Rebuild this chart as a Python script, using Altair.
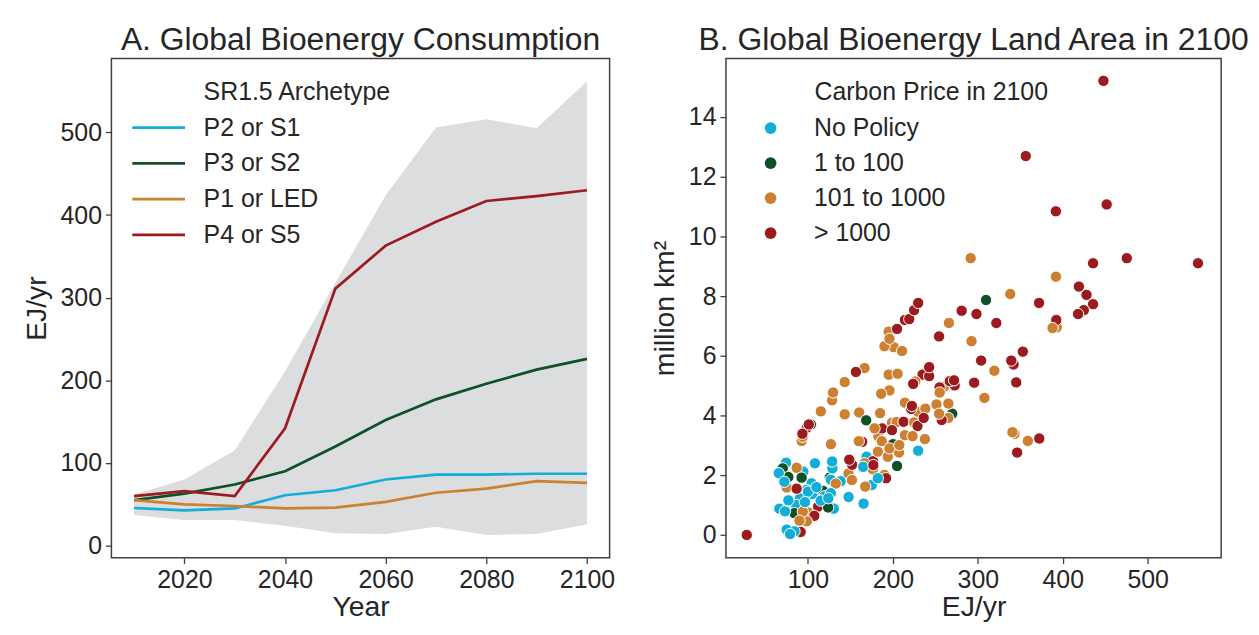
import altair as alt
import pandas as pd

# ---------------- Panel A data ----------------
years = [2010, 2020, 2030, 2040, 2050, 2060, 2070, 2080, 2090, 2100]
band_low = [37, 31, 31, 24, 15, 14, 23, 13, 14, 26]
band_high = [62, 80, 115, 211, 318, 424, 506, 516, 505, 562]
p2_s1 = [45.6, 42.8, 45, 61, 67, 80, 86, 86, 87, 87]
p3_s2 = [55, 63, 74, 90, 120, 152, 177, 196, 213, 226]
p1_led = [55, 50, 48, 45, 46, 53, 64, 69, 78, 76]
p4_s5 = [60, 66, 60, 142, 311, 363, 392, 417, 423, 430]
series_names = ["P2 or S1", "P3 or S2", "P1 or LED", "P4 or S5"]
series_colors = ["#12AED8", "#0E5127", "#CC8032", "#9B1B1F"]

# ---------------- Panel B data ----------------
cat_names = ["No Policy", "1 to 100", "101 to 1000", "> 1000"]
cat_colors = ["#12AED8", "#0E5127", "#CC8032", "#9B1B1F"]

nopol_x = [79, 75, 84.2, 66.4, 73, 77, 90.6, 96.5, 105, 98.4, 104.3, 127, 130.4, 124, 147.9,
           165.5, 65.7, 74.3, 72.2, 94.6, 108.2, 128.5, 128.8, 138.6, 127, 169.1, 165, 175.2,
           182.3, 229.8, 115, 120, 100, 110, 86]
nopol_y = [0.03, 0.18, 0.12, 0.88, 0.79, 1.16, 1.23, 1.1, 1.37, 1.51, 1.73, 1.4, 0.88, 1.23, 1.27,
           1.05, 2.07, 2.42, 1.78, 2.12, 2.4, 2.46, 2.23, 1.8, 1.85, 2.62, 2.28, 1.67,
           1.9, 2.82, 1.15, 1.3, 1.45, 1.6, 1.0]

low_x = [70.4, 77, 92.6, 84, 123.8, 125.7, 117.5, 111.6, 103.5, 168.6, 200.2, 204.9, 269.9, 309.7]
low_y = [2.23, 1.94, 1.92, 0.73, 0.92, 1.92, 1.48, 1.45, 3.7, 3.84, 3.04, 2.31, 4.06, 7.87]

mid_x = [90.1, 98.6, 100.4, 94, 75, 86.7, 93.8, 92.6, 127, 115.2, 128.5, 129.6, 143.3, 143.3,
         160.4, 166.7, 132.8, 151.8, 147.8, 167.5, 166.7, 176.4, 182.3, 194, 190, 196, 207.6,
         187, 183, 214.2, 223.2, 237.7, 178.4, 199, 204.4, 225, 185, 214.2, 229.6, 238.2,
         251.3, 265.3, 254.4, 265.3, 186.2, 196, 195.1, 205.6, 226.3, 260.2, 255.1, 190.1,
         201, 210.7, 195.1, 196, 266, 292.6, 307.8, 319.5, 291.6, 338.2, 340.8, 343.2, 358.9,
         388, 392.8, 392, 159.9, 207.2]
mid_y = [0.48, 0.46, 0.75, 0.78, 1.59, 2.25, 3.29, 3.15, 3.04, 4.14, 4.51, 4.77, 5.12, 4.04,
         4.1, 5.59, 1.72, 1.84, 2.06, 1.62, 2.4, 2.2, 2.79, 2.62, 2.01, 2.9, 3.01,
         3.14, 3.3, 3.34, 3.31, 3.21, 3.57, 3.76, 3.78, 3.77, 4.08, 4.43, 4.12, 4.23,
         4.37, 4.4, 4.06, 3.92, 4.73, 4.84, 5.37, 5.4, 5.14, 4.96, 4.77, 6.32,
         6.29, 6.16, 6.81, 6.57, 7.1, 6.49, 4.59, 5.5, 9.27, 8.07, 3.44, 3.39, 3.15,
         6.93, 6.95, 8.65, 3.14, 2.76]

high_x = [28, 91.5, 107.5, 112, 86.7, 93.5, 99, 101, 148.7, 152, 156.5, 163.9, 177, 176.6, 192,
          187.3, 199, 212.6, 229, 222.4, 221.6, 236.3, 257.5, 223.9, 235, 242.7, 242.7, 255,
          272, 272.8, 267, 295.7, 303.9, 204.9, 214.2, 219.3, 225, 229.8, 254.4, 281, 298.4,
          321.8, 339.4, 342.1, 345.2, 346.3, 372.4, 353, 372.1, 392.4, 418, 421, 424.8, 419,
          428, 435.7, 435.7, 451.7, 475.4, 559.2, 391.9, 356.5, 447.9]
high_y = [0.0, 0.1, 0.64, 0.95, 1.55, 3.39, 3.6, 3.7, 2.52, 2.35, 5.46, 3.12, 2.34, 2.47, 1.9,
          3.57, 3.51, 3.79, 3.65, 4.32, 4.22, 3.92, 3.85, 5.06, 5.37, 5.32, 5.62, 4.94,
          5.18, 5.01, 5.15, 5.1, 5.84, 6.9, 7.2, 7.23, 7.53, 7.77, 6.65, 7.51, 7.4,
          7.1, 5.84, 5.71, 5.11, 2.76, 3.23, 6.14, 7.77, 7.2, 7.4, 7.45, 7.53, 8.32,
          8.04, 7.73, 9.1, 11.07, 9.27, 9.1, 10.84, 12.69, 15.21]

# ---------------- Tables ----------------
band_df = pd.DataFrame({"year": years, "low": band_low, "high": band_high})
rows = []
for name, vals in zip(series_names, [p2_s1, p3_s2, p1_led, p4_s5]):
    for yr, v in zip(years, vals):
        rows.append({"year": yr, "value": v, "series": name})
lines_df = pd.DataFrame(rows)

srows = []
for name, xs, ys in zip(cat_names, [nopol_x, low_x, mid_x, high_x], [nopol_y, low_y, mid_y, high_y]):
    for a, b in zip(xs, ys):
        srows.append({"ej": a, "area": b, "price": name})
scatter_df = pd.DataFrame(srows).sample(frac=1.0, random_state=3).reset_index(drop=True)

TEXT = "#262626"
FONT = "Liberation Sans"

x_a = alt.X("year:Q", scale=alt.Scale(domain=[2005.5, 2104.5], nice=False, zero=False),
            axis=alt.Axis(values=[2020, 2040, 2060, 2080, 2100], format="d", title="Year"))
y_a = alt.Y("low:Q", scale=alt.Scale(domain=[-14.5, 589.5], nice=False),
            axis=alt.Axis(values=[0, 100, 200, 300, 400, 500], title="EJ/yr"))

band = alt.Chart(band_df).mark_area(color="#DCDDDF", opacity=1).encode(
    x=x_a, y=y_a, y2="high:Q"
)

lines = alt.Chart(lines_df).mark_line(strokeWidth=2.7).encode(
    x="year:Q",
    y="value:Q",
    color=alt.Color(
        "series:N",
        scale=alt.Scale(domain=series_names, range=series_colors),
        sort=series_names,
        legend=alt.Legend(
            title="SR1.5 Archetype", orient="none", legendX=92.7, legendY=21.5,
            symbolType="M-2.12,0H2.12", symbolSize=625, symbolStrokeWidth=2.7,
            symbolOffset={"expr": "-59.2"}, labelOffset=31.2,
            rowPadding=9, titlePadding=9,
            titleLimit=400, labelLimit=300,
        ),
    ),
)

panel_a = alt.layer(band, lines).properties(
    width=501, height=502,
    title=alt.TitleParams("A. Global Bioenergy Consumption", fontSize=32, fontWeight="normal",
                          font=FONT, color=TEXT, anchor="middle", offset=1.5),
)

panel_b = alt.Chart(scatter_df).mark_circle(size=130, opacity=1, stroke="white", strokeWidth=1).encode(
    x=alt.X("ej:Q", scale=alt.Scale(domain=[3.5, 586.5], nice=False, zero=False),
            axis=alt.Axis(values=[100, 200, 300, 400, 500], title="EJ/yr")),
    y=alt.Y("area:Q", scale=alt.Scale(domain=[-0.76, 15.96], nice=False),
            axis=alt.Axis(values=[0, 2, 4, 6, 8, 10, 12, 14], title="million km²")),
    color=alt.Color(
        "price:N",
        scale=alt.Scale(domain=cat_names, range=cat_colors),
        legend=alt.Legend(
            title="Carbon Price in 2100", orient="none", legendX=89, legendY=21.5,
            symbolType="circle", symbolSize=140, symbolStrokeWidth=0,
            symbolOffset={"expr": "-56.6"}, labelOffset=31.1,
            rowPadding=9.2, titlePadding=11, titleLimit=400, labelLimit=300,
        ),
    ),
).properties(
    width=498, height=502,
    title=alt.TitleParams("B. Global Bioenergy Land Area in 2100", fontSize=32, fontWeight="normal",
                          font=FONT, color=TEXT, anchor="middle", offset=1.5),
)

chart = alt.hconcat(panel_a, panel_b, spacing=34).resolve_scale(
    color="independent"
).resolve_legend(
    color="independent"
).properties(
    padding={"left": 13, "top": 13, "right": 0, "bottom": 0},
).configure(
    background="white",
    font=FONT,
).configure_view(
    stroke="#404040", strokeWidth=1.5,
).configure_axis(
    grid=False, domain=False,
    labelFont=FONT, titleFont=FONT,
    labelFontSize=25, titleFontSize=28.5,
    labelColor=TEXT, titleColor=TEXT,
    titleFontWeight="normal",
    tickColor="#404040", tickSize=6, tickWidth=1.3,
    labelPadding=4,
).configure_axisX(
    titlePadding=0,
).configure_axisY(
    titlePadding=9,
).configure_legend(
    labelFont=FONT, titleFont=FONT,
    labelFontSize=25, titleFontSize=25,
    labelColor=TEXT, titleColor=TEXT,
    titleFontWeight="normal",
)

chart.save("out.html", embed_options={"renderer": "svg", "actions": False})
